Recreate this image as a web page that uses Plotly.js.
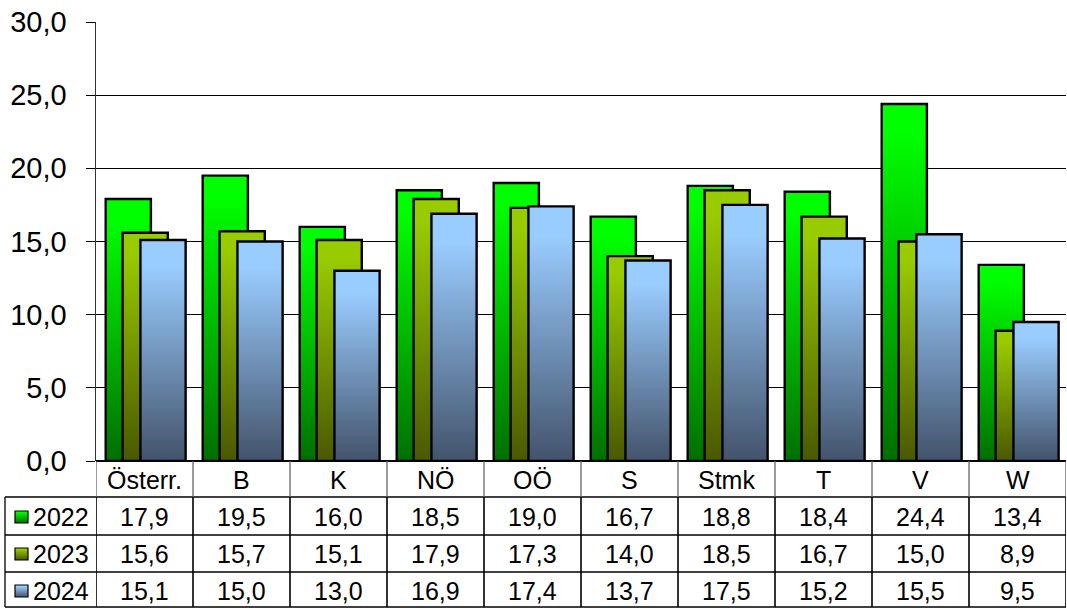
<!DOCTYPE html>
<html>
<head>
<meta charset="utf-8">
<script src="https://cdn.plot.ly/plotly-3.0.1.min.js"></script>
<style>
html,body{margin:0;padding:0;background:#fff;}
#chart{width:1067px;height:608px;}
</style>
</head>
<body>
<div id="chart"></div>
<script>
const categories = ['Österr.', 'B', 'K', 'NÖ', 'OÖ', 'S', 'Stmk', 'T', 'V', 'W'];
const years = ['2022', '2023', '2024'];
const v2022 = [17.9, 19.5, 16.0, 18.5, 19.0, 16.7, 18.8, 18.4, 24.4, 13.4];
const v2023 = [15.6, 15.7, 15.1, 17.9, 17.3, 14.0, 18.5, 16.7, 15.0, 8.9];
const v2024 = [15.1, 15.0, 13.0, 16.9, 17.4, 13.7, 17.5, 15.2, 15.5, 9.5];
const series = [v2022, v2023, v2024];

const gradTop = ['#00ff00', '#99cc00', '#99ccff'];
const gradBot = ['#006f00', '#4a5800', '#43536b'];
const midCol = ['#00b400', '#729200', '#6e90b5'];
const offsets = [-0.40, -0.226, -0.042];
const barW = 0.466;

const FONT = 'Liberation Sans, Arial, sans-serif';
const H = 439, TOP = 22;
const py = p => (TOP + H - p) / H;      // pixel row -> paper y
const PL = 96, PW = 970;
const px = p => (p - PL) / PW;          // pixel col -> paper x

const traces = series.map((vals, i) => ({
  type: 'bar', name: years[i], x: categories, y: vals,
  width: barW, offset: offsets[i],
  marker: {color: midCol[i], line: {color: '#000', width: 2.4}},
  hoverinfo: 'skip', showlegend: false
}));

const fmt = v => v.toFixed(1).replace('.', ',');
const shapes = [];
const annotations = [];
const rowLines = [497, 535, 572, 607];
const rowCenters = [517, 554, 591];
const headerCenter = 480;

rowLines.forEach(y => shapes.push({type: 'line', xref: 'paper', yref: 'paper',
  x0: px(5), x1: 1, y0: py(y), y1: py(y), line: {color: '#000', width: 1.3}}));
shapes.push({type: 'line', xref: 'paper', yref: 'paper', x0: px(5), x1: px(5),
  y0: py(497), y1: py(607), line: {color: '#000', width: 1.3}});
for (let k = 0; k <= categories.length; k++) {
  shapes.push({type: 'line', xref: 'x', yref: 'paper', x0: k - 0.5, x1: k - 0.5,
    y0: py(461), y1: py(497), line: {color: '#666', width: 1.3}});
  shapes.push({type: 'line', xref: 'x', yref: 'paper', x0: k - 0.5, x1: k - 0.5,
    y0: py(497), y1: py(607), line: {color: '#000', width: 1.6}});
}
const legendIdx = [];
years.forEach((yr, i) => {
  legendIdx.push(shapes.length);
  shapes.push({type: 'rect', xref: 'paper', yref: 'paper',
    x0: px(15), x1: px(28), y0: py(rowCenters[i] - 6), y1: py(rowCenters[i] + 6),
    fillcolor: midCol[i], line: {color: '#000', width: 1.2}});
  annotations.push({xref: 'paper', yref: 'paper', x: px(31), y: py(rowCenters[i]),
    xanchor: 'left', yanchor: 'middle', text: yr, showarrow: false,
    font: {family: FONT, size: 25, color: '#000'}});
});
categories.forEach(c => annotations.push({xref: 'x', yref: 'paper', x: c, y: py(headerCenter),
  xanchor: 'center', yanchor: 'middle', text: c, showarrow: false,
  font: {family: FONT, size: 25, color: '#000'}}));
series.forEach((vals, i) => vals.forEach((v, j) => annotations.push({
  xref: 'x', yref: 'paper', x: categories[j], y: py(rowCenters[i]),
  xanchor: 'center', yanchor: 'middle', text: fmt(v), showarrow: false,
  font: {family: FONT, size: 25, color: '#000'}})));

const layout = {
  width: 1067, height: 608,
  margin: {l: PL, r: 1, t: TOP, b: 608 - TOP - H},
  paper_bgcolor: '#fff', plot_bgcolor: '#fff',
  barmode: 'overlay',
  separators: ',.',
  showlegend: false,
  font: {family: FONT, color: '#000'},
  xaxis: {type: 'category', range: [-0.5, 9.5], showticklabels: false, ticks: '',
    showgrid: false, zeroline: false, showline: false, fixedrange: true},
  yaxis: {range: [0, 30], dtick: 5, tick0: 0, tickformat: '.1f',
    ticks: 'outside', ticklen: 9, tickcolor: '#000', tickwidth: 1,
    showgrid: true, gridcolor: '#000', gridwidth: 1,
    zeroline: true, zerolinecolor: '#000', zerolinewidth: 1.3,
    showline: true, linecolor: '#333', linewidth: 1.5,
    ticklabelstandoff: 13,
    tickfont: {family: FONT, size: 29, color: '#000'}, fixedrange: true},
  shapes: shapes,
  annotations: annotations
};

Plotly.newPlot('chart', traces, layout, {staticPlot: true, displayModeBar: false}).then(gd => {
  const svg = gd.querySelector('svg.main-svg');
  const NS = 'http://www.w3.org/2000/svg';
  const defs = document.createElementNS(NS, 'defs');
  gradTop.forEach((top, i) => {
    const g = document.createElementNS(NS, 'linearGradient');
    g.setAttribute('id', 'grad' + i);
    g.setAttribute('x1', '0'); g.setAttribute('y1', '0');
    g.setAttribute('x2', '0'); g.setAttribute('y2', '1');
    const s1 = document.createElementNS(NS, 'stop');
    s1.setAttribute('offset', i === 2 ? '0.12' : '0.08'); s1.setAttribute('stop-color', top);
    const s2 = document.createElementNS(NS, 'stop');
    s2.setAttribute('offset', '1'); s2.setAttribute('stop-color', gradBot[i]);
    g.appendChild(s1); g.appendChild(s2);
    defs.appendChild(g);
  });
  svg.insertBefore(defs, svg.firstChild);
  gd.querySelectorAll('.barlayer .trace').forEach((tr, i) => {
    tr.querySelectorAll('path').forEach(p => { p.style.fill = 'url(#grad' + i + ')'; });
  });
  gd.querySelectorAll('.shapelayer path').forEach(p => {
    const idx = +p.getAttribute('data-index');
    const li = legendIdx.indexOf(idx);
    if (li >= 0) p.style.fill = 'url(#grad' + li + ')';
  });
});
</script>
</body>
</html>
